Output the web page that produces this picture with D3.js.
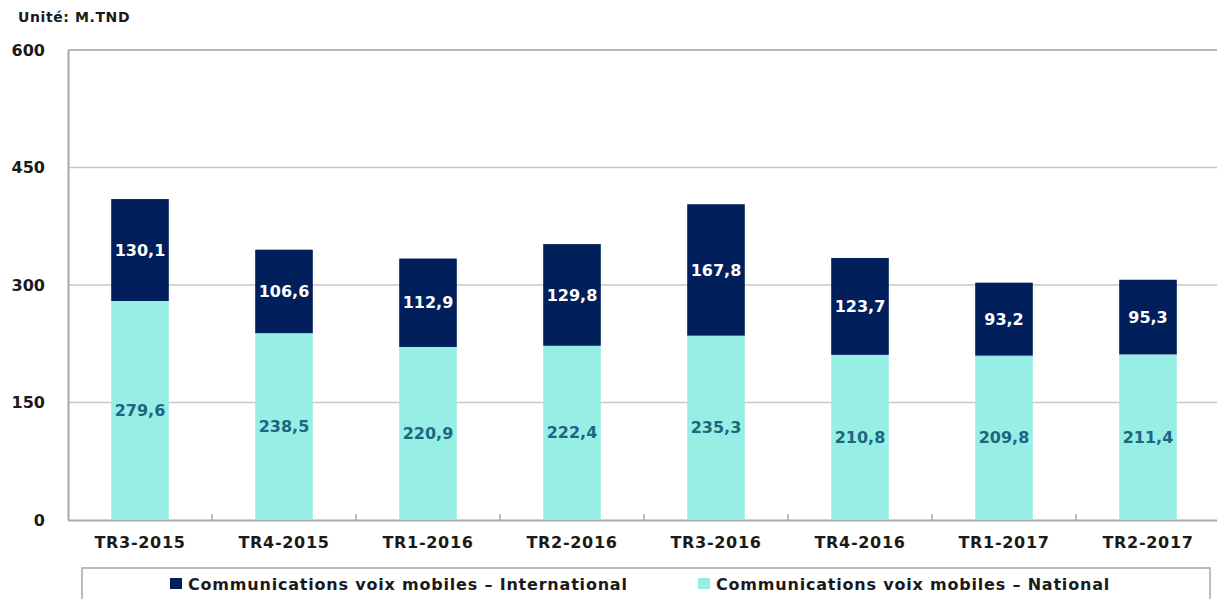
<!DOCTYPE html>
<html><head><meta charset="utf-8">
<script src="https://cdn.jsdelivr.net/npm/d3@7/dist/d3.min.js"></script>
<style>body{margin:0;background:#fff}svg{display:block}</style>
</head><body>
<script>
const categories = ["TR3-2015","TR4-2015","TR1-2016","TR2-2016","TR3-2016","TR4-2016","TR1-2017","TR2-2017"];
const national = [279.6,238.5,220.9,222.4,235.3,210.8,209.8,211.4];
const international = [130.1,106.6,112.9,129.8,167.8,123.7,93.2,95.3];
const yTicks = [0,150,300,450,600];
const seriesNames = ["Communications voix mobiles \u2013 International","Communications voix mobiles \u2013 National"];
const unitLabel = "Unité: M.TND";

(function(){
const W=1217,H=599;
const colNat="#97EEE5", colInt="#001F5B";
const font="'DejaVu Sans', Verdana, sans-serif";
const svg=d3.select("body").append("svg").attr("width",W).attr("height",H);

const pL=68, pT=50, pB=520, pR=1220;
const x=d3.scaleBand().domain(categories).range([pL,pR]).paddingInner(0.6).paddingOuter(0.3);
const y=d3.scaleLinear().domain([0,600]).range([pB,pT]);

svg.append("g").selectAll("line").data(yTicks.filter(d=>d>0)).join("line")
  .attr("x1",pL).attr("x2",W).attr("y1",d=>y(d)).attr("y2",d=>y(d))
  .attr("stroke",d=>d===600?"#b8b8b8":"#c8c8c8").attr("stroke-width",d=>d===600?2:1.5);

const ya=svg.append("g").attr("transform",`translate(${pL},0)`)
  .call(d3.axisLeft(y).tickValues(yTicks).tickSize(0).tickPadding(23));
ya.select(".domain").attr("stroke","#a8a8a8").attr("stroke-width",2);
ya.selectAll("text").attr("font-family",font).attr("font-weight","bold").attr("font-size",16).attr("fill","#1a1a1a");

const xa=svg.append("g").attr("transform",`translate(0,${pB})`)
  .call(d3.axisBottom(x).tickSize(0).tickPadding(17));
xa.select(".domain").attr("stroke","#a8a8a8").attr("stroke-width",2);
xa.selectAll("text").attr("font-family",font).attr("font-weight","bold").attr("font-size",16)
  .attr("letter-spacing","0.7px").attr("fill","#1a1a1a");
svg.append("g").selectAll("line").data(categories.slice(1)).join("line")
  .attr("x1",d=>x(d)-x.step()*x.paddingInner()/2).attr("x2",d=>x(d)-x.step()*x.paddingInner()/2)
  .attr("y1",pB).attr("y2",pB-6).attr("stroke","#a8a8a8").attr("stroke-width",1.5);

const g=svg.append("g");
g.selectAll("rect.nat").data(categories).join("rect").attr("class","nat")
  .attr("x",d=>x(d)).attr("width",x.bandwidth())
  .attr("y",(d,i)=>y(national[i])).attr("height",(d,i)=>y(0)-y(national[i]))
  .attr("fill",colNat);
g.selectAll("rect.int").data(categories).join("rect").attr("class","int")
  .attr("x",d=>x(d)).attr("width",x.bandwidth())
  .attr("y",(d,i)=>y(national[i]+international[i])).attr("height",(d,i)=>y(national[i])-y(national[i]+international[i]))
  .attr("fill",colInt);

const fmt=v=>v.toFixed(1).replace(".",",");
g.selectAll("text.nat").data(categories).join("text").attr("class","nat")
  .attr("x",d=>x(d)+x.bandwidth()/2).attr("y",(d,i)=>y(national[i]/2))
  .attr("dy","0.35em").attr("text-anchor","middle")
  .attr("font-family",font).attr("font-weight","bold").attr("font-size",16).attr("fill","#1D6680")
  .text((d,i)=>fmt(national[i]));
g.selectAll("text.int").data(categories).join("text").attr("class","int")
  .attr("x",d=>x(d)+x.bandwidth()/2).attr("y",(d,i)=>y(national[i]+international[i]/2))
  .attr("dy","0.35em").attr("text-anchor","middle")
  .attr("font-family",font).attr("font-weight","bold").attr("font-size",16).attr("fill","#ffffff")
  .text((d,i)=>fmt(international[i]));

svg.append("text").attr("x",18).attr("y",22).attr("font-family",font).attr("font-weight","bold")
  .attr("font-size",14).attr("letter-spacing","0.6px").attr("fill","#1a1a1a").text(unitLabel);

svg.append("rect").attr("x",82).attr("y",568).attr("width",1128).attr("height",60)
  .attr("fill","#fff").attr("stroke","#a8a8a8").attr("stroke-width",1.5);
const legX=[170,698], legCol=[colInt,colNat];
seriesNames.forEach((n,i)=>{
  svg.append("rect").attr("x",legX[i]).attr("y",578).attr("width",12).attr("height",11).attr("fill",legCol[i]);
  svg.append("text").attr("x",legX[i]+18).attr("y",584).attr("dy","0.35em")
    .attr("font-family",font).attr("font-weight","bold").attr("font-size",16).attr("letter-spacing","0.8px")
    .attr("fill","#1a1a1a").text(n);
});
})();
</script>
</body></html>
